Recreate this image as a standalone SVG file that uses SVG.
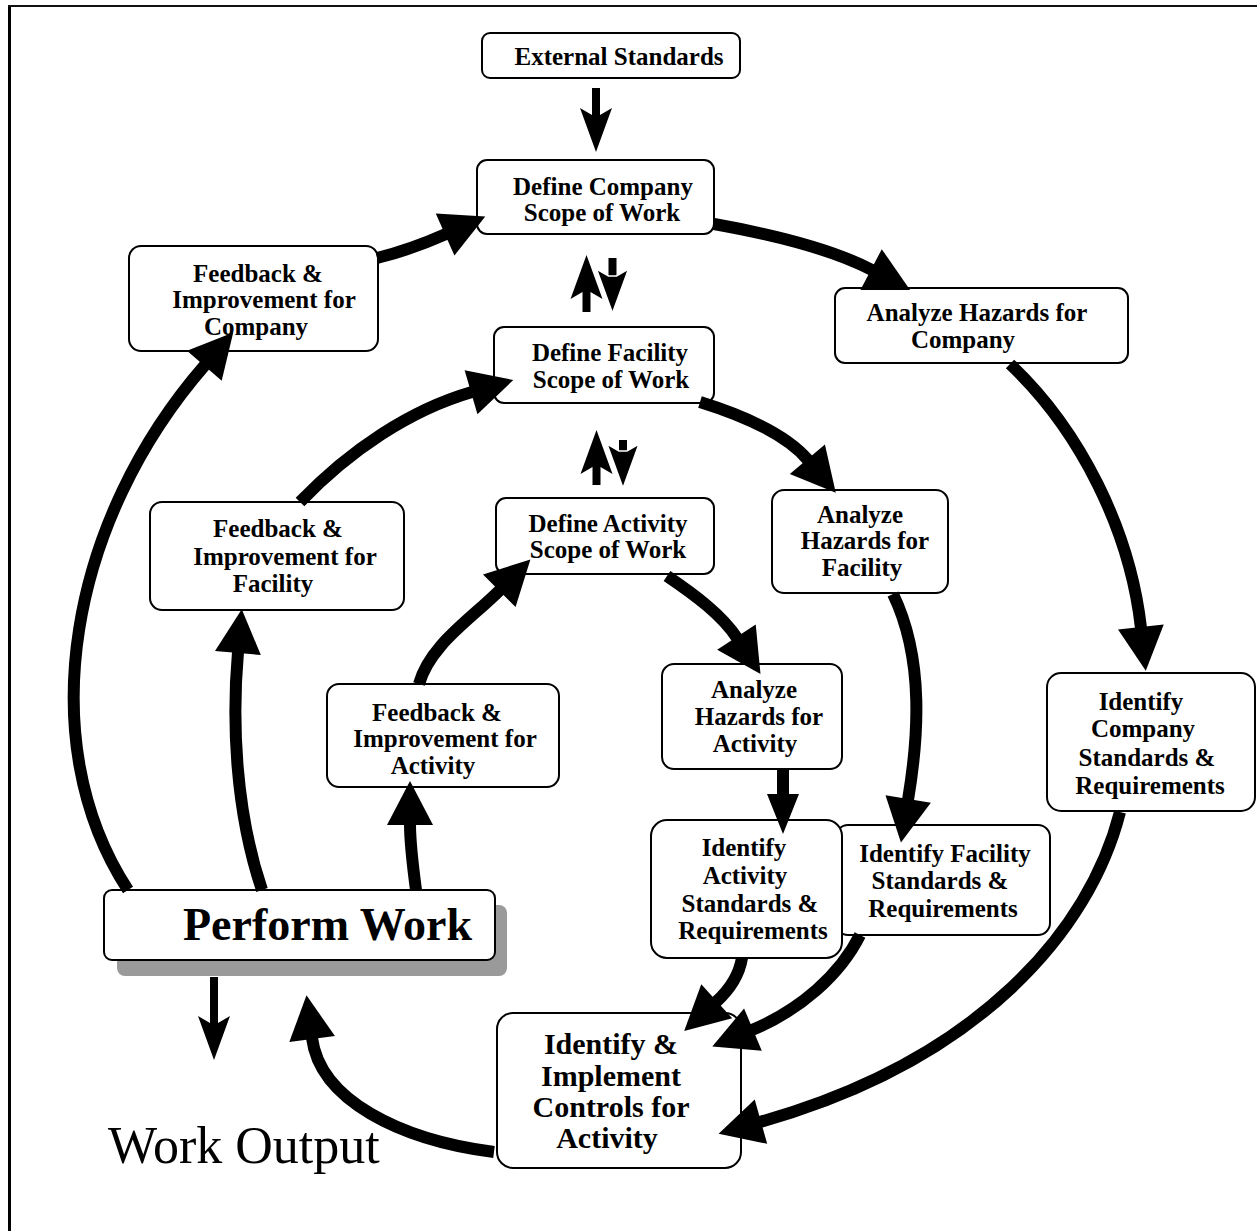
<svg xmlns="http://www.w3.org/2000/svg" xmlns:xlink="http://www.w3.org/1999/xlink" width="1257" height="1231" viewBox="0 0 1257 1231">
  <style>
    .box { fill: #fff; stroke: #000; stroke-width: 2; }
    .lbl { font-family: "Liberation Serif", "Times New Roman", serif; font-weight: bold; font-size: 25px; text-anchor: middle; fill: #000; }
    .big { font-size: 30px; }
    .conn { fill: none; stroke: #000; stroke-width: 12; marker-end: url(#head); }
    .conn.mid { marker-end: url(#head-mid); }
    .small { fill: #000; }
    .gap { stroke: #fff; stroke-width: 1.5; }
  </style>
  <defs>
    <marker id="head" markerUnits="userSpaceOnUse" markerWidth="50" markerHeight="50" refX="1" refY="23" orient="auto" overflow="visible">
      <path d="M0,0 L44,23 L0,46 Z" fill="#000"/>
    </marker>
    <marker id="head-mid" markerUnits="userSpaceOnUse" markerWidth="44" markerHeight="36" refX="1" refY="16" orient="auto" overflow="visible">
      <path d="M0,0 L40,16 L0,32 Z" fill="#000"/>
    </marker>
    <!-- barbed head of the thin straight arrows, pointing down, tip at origin -->
    <path id="sarrow-head" d="M0,0 L-16,-44 L-4,-37 L4,-37 L16,-44 Z"/>
  </defs>

  <rect width="1257" height="1231" fill="#fff"/>
  <!-- page frame -->
  <line x1="9.5" y1="5" x2="9.5" y2="1231" stroke="#000" stroke-width="3"/>
  <line x1="8" y1="6" x2="1257" y2="6" stroke="#111" stroke-width="2"/>

  <g id="nodes">
    <g id="n-external">
      <rect class="box" x="482" y="33" width="258" height="45" rx="8"/>
      <text class="lbl" x="619" y="65">External Standards</text>
    </g>
    <g id="n-define-company">
      <rect class="box" x="477" y="160" width="237" height="74" rx="10"/>
      <text class="lbl"><tspan x="603" y="195">Define Company</tspan><tspan x="602" y="221">Scope of Work</tspan></text>
    </g>
    <g id="n-feedback-company">
      <rect class="box" x="129" y="246" width="249" height="105" rx="12"/>
      <text class="lbl"><tspan x="258" y="282">Feedback &amp;</tspan><tspan x="264" y="308">Improvement for</tspan><tspan x="256" y="335">Company</tspan></text>
    </g>
    <g id="n-analyze-company">
      <rect class="box" x="835" y="288" width="293" height="75" rx="10"/>
      <text class="lbl"><tspan x="977" y="321">Analyze Hazards for</tspan><tspan x="963" y="348">Company</tspan></text>
    </g>
    <g id="n-define-facility">
      <rect class="box" x="494" y="327" width="220" height="76" rx="10"/>
      <text class="lbl"><tspan x="610" y="361">Define Facility</tspan><tspan x="611" y="388">Scope of Work</tspan></text>
    </g>
    <g id="n-feedback-facility">
      <rect class="box" x="150" y="502" width="254" height="108" rx="12"/>
      <text class="lbl"><tspan x="278" y="537">Feedback &amp;</tspan><tspan x="285" y="565">Improvement for</tspan><tspan x="273" y="592">Facility</tspan></text>
    </g>
    <g id="n-define-activity">
      <rect class="box" x="496" y="498" width="218" height="76" rx="10"/>
      <text class="lbl"><tspan x="608" y="532">Define Activity</tspan><tspan x="608" y="558">Scope of Work</tspan></text>
    </g>
    <g id="n-analyze-facility">
      <rect class="box" x="772" y="490" width="176" height="103" rx="12"/>
      <text class="lbl"><tspan x="860" y="523">Analyze</tspan><tspan x="865" y="549">Hazards for</tspan><tspan x="862" y="576">Facility</tspan></text>
    </g>
    <g id="n-feedback-activity">
      <rect class="box" x="327" y="684" width="232" height="103" rx="12"/>
      <text class="lbl"><tspan x="437" y="721">Feedback &amp;</tspan><tspan x="445" y="747">Improvement for</tspan><tspan x="433" y="774">Activity</tspan></text>
    </g>
    <g id="n-analyze-activity">
      <rect class="box" x="662" y="664" width="180" height="105" rx="12"/>
      <text class="lbl"><tspan x="754" y="698">Analyze</tspan><tspan x="759" y="725">Hazards for</tspan><tspan x="755" y="752">Activity</tspan></text>
    </g>
    <g id="n-identify-company">
      <rect class="box" x="1047" y="673" width="208" height="138" rx="14"/>
      <text class="lbl"><tspan x="1141" y="710">Identify</tspan><tspan x="1143" y="737">Company</tspan><tspan x="1147" y="766">Standards &amp;</tspan><tspan x="1150" y="794">Requirements</tspan></text>
    </g>
    <g id="n-identify-facility">
      <rect class="box" x="836" y="825" width="214" height="110" rx="12"/>
      <text class="lbl"><tspan x="945" y="862">Identify Facility</tspan><tspan x="940" y="889">Standards &amp;</tspan><tspan x="943" y="917">Requirements</tspan></text>
    </g>
    <g id="n-identify-activity">
      <rect class="box" x="651" y="820" width="191" height="138" rx="16"/>
      <text class="lbl"><tspan x="744" y="856">Identify</tspan><tspan x="745" y="884">Activity</tspan><tspan x="750" y="912">Standards &amp;</tspan><tspan x="753" y="939">Requirements</tspan></text>
    </g>
    <g id="n-controls">
      <rect class="box" x="497" y="1013" width="244" height="155" rx="16"/>
      <text class="lbl big"><tspan x="611" y="1054">Identify &amp;</tspan><tspan x="611" y="1086">Implement</tspan><tspan x="611" y="1117">Controls for</tspan><tspan x="607" y="1148">Activity</tspan></text>
    </g>
    <g id="n-perform">
      <rect x="117" y="905" width="390" height="71" rx="8" fill="#9a9a9a"/>
      <rect class="box" x="104" y="890" width="391" height="70" rx="8"/>
      <text class="lbl" x="183" y="940" style="text-anchor:start;font-size:46px">Perform Work</text>
    </g>
    <g id="n-output">
      <text x="108" y="1163" style="font-family:'Liberation Serif','Times New Roman',serif;font-size:52px;fill:#000">Work Output</text>
    </g>
  </g>

  <g id="connectors">
    <!-- thin straight arrows -->
    <rect class="small" x="592" y="88" width="8" height="28"/>
    <use href="#sarrow-head" xlink:href="#sarrow-head" class="small" transform="translate(596,152)"/>

    <rect class="small" x="582.5" y="292" width="8" height="20"/>
    <use href="#sarrow-head" xlink:href="#sarrow-head" class="small" transform="translate(586.5,255) rotate(180)"/>
    <rect class="small" x="608.5" y="258" width="8" height="20"/>
    <use href="#sarrow-head" xlink:href="#sarrow-head" class="small gap" transform="translate(612.5,313)"/>

    <rect class="small" x="592.5" y="467" width="8" height="18"/>
    <use href="#sarrow-head" xlink:href="#sarrow-head" class="small" transform="translate(596.5,430) rotate(180)"/>
    <rect class="small" x="619" y="440" width="8" height="13"/>
    <use href="#sarrow-head" xlink:href="#sarrow-head" class="small gap" transform="translate(623,488)"/>

    <rect class="small" x="210" y="977" width="8" height="47"/>
    <use href="#sarrow-head" xlink:href="#sarrow-head" class="small" transform="translate(214,1060)"/>

    <!-- company loop -->
    <path class="conn" d="M714,224 C770,234 830,248 872,270"/>
    <path class="conn" d="M1010,364 C1080,430 1130,530 1141,628"/>
    <path class="conn" d="M1120,812 C1090,930 980,1060 760,1122"/>
    <path class="conn" d="M128,890 C30,740 70,520 205,365"/>
    <path class="conn" d="M377,258 Q410,250 446,234"/>

    <!-- facility loop -->
    <path class="conn" d="M700,402 C745,416 786,434 808,460"/>
    <path class="conn" d="M893,594 C925,660 918,740 908,800"/>
    <path class="conn" d="M860,935 C840,975 800,1010 752,1030"/>
    <path class="conn" d="M262,890 C235,810 232,720 238,652"/>
    <path class="conn" d="M300,502 C350,450 410,410 472,392"/>

    <!-- activity loop -->
    <path class="conn" d="M667,576 C695,595 722,615 737,638"/>
    <path class="conn mid" d="M783,769 L783,795"/>
    <path class="conn" d="M742,958 Q738,982 716,1002"/>
    <path class="conn" d="M494,1152 C400,1140 320,1100 312,1038"/>
    <path class="conn" d="M416,890 C412,860 410,840 410,824"/>
    <path class="conn" d="M419,684 C430,645 470,620 500,590"/>
  </g>
</svg>
